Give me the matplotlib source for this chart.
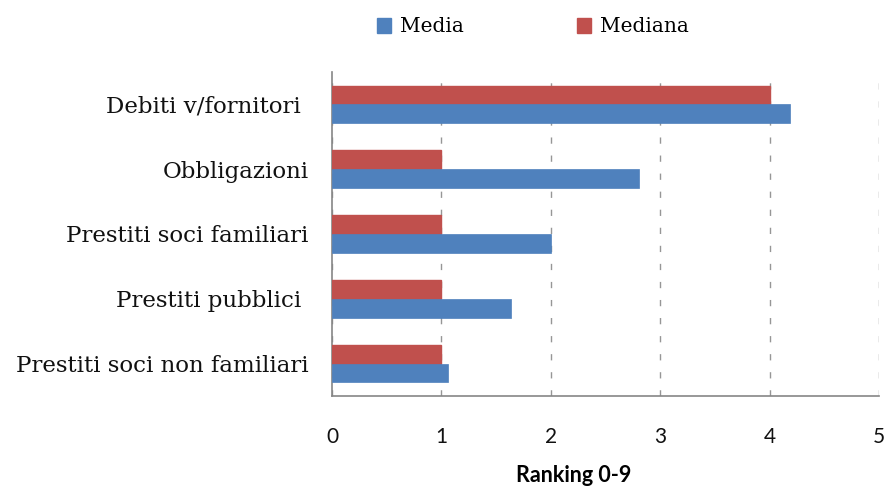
import matplotlib
matplotlib.use('Agg')
import matplotlib.pyplot as plt
import matplotlib.patches as mpatches
import numpy as np

categories = ['Debiti v/fornitori ', 'Obbligazioni', 'Prestiti soci familiari',
              'Prestiti pubblici ', 'Prestiti soci non familiari']
media = [4.19, 2.81, 2.0, 1.64, 1.06]
mediana = [4.0, 1.0, 1.0, 1.0, 1.0]
x_ticks = [0, 1, 2, 3, 4, 5]

BLUE = '#4F81BD'
RED = '#C0504D'
GRID = '#969696'
AXIS = '#868686'
SERIF = 'DejaVu Serif'
SANS = 'Lato'

fig = plt.figure(figsize=(8.89, 4.91), dpi=100)
ax = fig.add_axes([332 / 889, 1 - 396 / 491, (879 - 332) / 889, (396 - 72) / 491])

n = len(categories)
y = np.arange(n)[::-1]
h = 0.29
ax.barh(y + h / 2, mediana, height=h, color=RED, edgecolor=RED, linewidth=1.0, label='Mediana', zorder=3)
ax.barh(y - h / 2, media, height=h, color=BLUE, edgecolor=BLUE, linewidth=0.5, label='Media', zorder=3)

ax.set_xlim(0, 5)
ax.set_ylim(-0.5, n - 0.5)
ax.set_xticks(x_ticks)
ax.set_xticklabels([str(t) for t in x_ticks], fontsize=15, family=SANS, color='#111111')
ax.set_yticks(y)
ax.set_yticklabels(categories, fontsize=16.5, family=SERIF, color='#111111')
ax.tick_params(axis='x', length=0, pad=22)
ax.tick_params(axis='y', length=0, pad=17)

ax.xaxis.grid(True, color=GRID, linestyle=(0, (4.5, 8.5)), linewidth=1.0, zorder=0)
ax.set_axisbelow(True)
for side in ['top', 'right']:
    ax.spines[side].set_visible(False)
for side in ['left', 'bottom']:
    ax.spines[side].set_color(AXIS)
    ax.spines[side].set_linewidth(1.2)

ax.set_xlabel('Ranking 0-9', fontsize=15.5, fontweight='bold', family=SANS)
ax.xaxis.set_label_coords((574 - 332) / (879 - 332), -(476 - 396) / (396 - 72))
ax.xaxis.label.set_verticalalignment('center')

handles = [mpatches.Patch(color=BLUE, label='Media'), mpatches.Patch(color=RED, label='Mediana')]
fig.legend(handles=handles, loc='center', bbox_to_anchor=(533 / 889, 1 - 27 / 491), ncol=2,
           frameon=False, prop={'family': SERIF, 'size': 14.5}, handlelength=0.7, handleheight=0.7,
           handletextpad=0.45, columnspacing=5.6)

plt.savefig('out.png', dpi=100)
plt.close()
